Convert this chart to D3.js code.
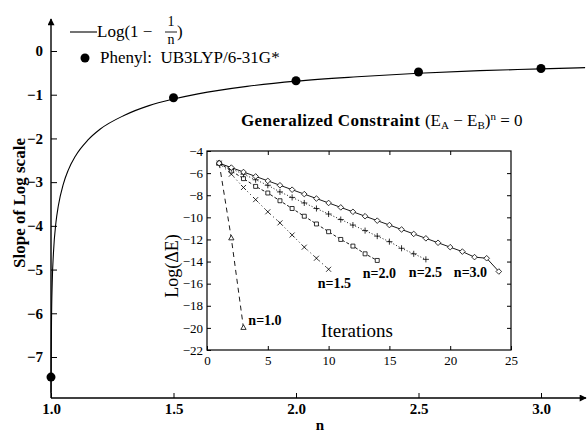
<html>
	<head>
		<meta content="text/html;charset=utf-8" http-equiv="Content-Type">
		<script src="https://d3js.org/d3.v7.min.js"></script>
		<style>
			body { margin: 0; background: #fff; }
			text { font-family: "Liberation Serif", "DejaVu Serif", serif; fill: #000; }
		</style>
	</head>
	<body>
		<div id="stuff">
			<svg width="588" height="435"></svg>
		</div>
		<script>

	// main chart: slope of log scale vs n
	var curveN = [1.0004, 1.001, 1.002, 1.005, 1.01, 1.02, 1.03, 1.05, 1.07, 1.1, 1.15, 1.2, 1.3, 1.4, 1.5, 1.6, 1.8, 2.0, 2.25, 2.5, 2.75, 3.0, 3.18];
	var curveSlope = [-7.82, -6.91, -6.22, -5.30, -4.62, -3.93, -3.54, -3.05, -2.73, -2.40, -2.04, -1.79, -1.47, -1.25, -1.10, -0.98, -0.81, -0.69, -0.59, -0.51, -0.45, -0.41, -0.38];
	var phenylN = [1.0, 1.5, 2.0, 2.5, 3.0];
	var phenylSlope = [-7.46, -1.07, -0.68, -0.48, -0.40];
	var mainXTicks = [1.0, 1.5, 2.0, 2.5, 3.0];
	var mainYTicks = [0, -1, -2, -3, -4, -5, -6, -7];

	// inset: log(dE) vs iterations
	var iterations = [1,2,3,4,5,6,7,8,9,10,11,12,13,14,15,16,17,18,19,20,21,22,23,24];
	var logDE_n10 = [-5.1, -11.9, -20.0];
	var logDE_n15 = [-5.1, -6.1, -7.3, -8.4, -9.5, -10.5, -11.6, -12.7, -13.7, -14.7];
	var logDE_n20 = [-5.1, -5.8, -6.5, -7.2, -7.8, -8.5, -9.2, -9.9, -10.6, -11.3, -12.0, -12.6, -13.3, -13.9];
	var logDE_n25 = [-5.1, -5.6, -6.1, -6.6, -7.1, -7.7, -8.2, -8.7, -9.2, -9.7, -10.2, -10.7, -11.2, -11.7, -12.2, -12.8, -13.3, -13.8];
	var logDE_n30 = [-5.1, -5.5, -5.9, -6.3, -6.7, -7.1, -7.5, -7.9, -8.3, -8.7, -9.1, -9.5, -9.9, -10.3, -10.7, -11.1, -11.5, -11.9, -12.3, -12.7, -13.1, -13.6, -13.7, -14.9];
	var seriesNames = ["n=1.0", "n=1.5", "n=2.0", "n=2.5", "n=3.0"];
	var seriesLabelX = [3.4, 9.1, 12.8, 16.6, 20.3];
	var seriesLabelY = [-19.7, -16.4, -15.5, -15.4, -15.4];
	var insetXTicks = [0, 5, 10, 15, 20, 25];
	var insetYTicks = [-4, -6, -8, -10, -12, -14, -16, -18, -20, -22];

	var svg = d3.select("#stuff").select("svg");

	drawMainChart();
	drawInset();

	function drawMainChart() {
		var x = d3.scaleLinear().domain([1.0, 3.0]).range([51, 541]);
		var y = d3.scaleLinear().domain([0, -7]).range([51, 357]);
		var bottomY = 398;

		// arrow head marker
		svg.append("defs").append("marker")
			.attr("id", "arrow")
			.attr("viewBox", "0 0 10 10")
			.attr("refX", 9)
			.attr("refY", 5)
			.attr("markerWidth", 7)
			.attr("markerHeight", 5)
			.attr("orient", "auto")
			.append("path")
			.attr("d", "M0,0 L10,5 L0,10 z")
			.attr("fill", "#000");

		// axis lines
		svg.append("line")
			.attr("x1", 51).attr("y1", bottomY)
			.attr("x2", 51).attr("y2", 19)
			.attr("stroke", "#000").attr("stroke-width", 1.4)
			.attr("marker-end", "url(#arrow)");
		svg.append("line")
			.attr("x1", 51).attr("y1", bottomY)
			.attr("x2", 586).attr("y2", bottomY)
			.attr("stroke", "#000").attr("stroke-width", 1.4)
			.attr("marker-end", "url(#arrow)");

		var yAxis = svg.append("g")
			.attr("transform", "translate(51,0)")
			.call(d3.axisLeft(y).tickValues(mainYTicks).tickSize(-6).tickPadding(8).tickFormat(d3.format("d")));
		yAxis.select(".domain").remove();
		yAxis.selectAll("text").style("font-size", "15px").style("font-weight", "bold");

		var xAxis = svg.append("g")
			.attr("transform", "translate(0," + bottomY + ")")
			.call(d3.axisBottom(x).tickValues(mainXTicks).tickSize(-5).tickPadding(5).tickFormat(d3.format(".1f")));
		xAxis.select(".domain").remove();
		xAxis.selectAll("text").style("font-size", "15px").style("font-weight", "bold");

		// axis titles
		svg.append("text")
			.attr("transform", "translate(25,203) rotate(-90)")
			.style("text-anchor", "middle")
			.style("font-size", "17px")
			.style("font-weight", "bold")
			.text("Slope of Log scale");
		svg.append("text")
			.attr("x", 320).attr("y", 430)
			.style("text-anchor", "middle")
			.style("font-size", "15px")
			.style("font-weight", "bold")
			.text("n");

		// Log(1 - 1/n) curve
		var curveData = curveN.map(function(n, i){ return [n, curveSlope[i]]; });
		var line = d3.line()
			.x(function(d){ return x(d[0]); })
			.y(function(d){ return y(d[1]); })
			.curve(d3.curveMonotoneX);
		svg.append("path")
			.datum(curveData)
			.attr("d", line)
			.attr("fill", "none")
			.attr("stroke", "#000")
			.attr("stroke-width", 1.1);

		// phenyl points
		phenylN.forEach(function(n, i){
			svg.append("circle")
				.attr("cx", x(n))
				.attr("cy", y(phenylSlope[i]))
				.attr("r", 4.5)
				.attr("fill", "#000");
		});

		// legend
		svg.append("line")
			.attr("x1", 70).attr("y1", 32)
			.attr("x2", 97).attr("y2", 32)
			.attr("stroke", "#000").attr("stroke-width", 1.1);
		svg.append("text")
			.attr("x", 97).attr("y", 37)
			.style("font-size", "17px")
			.text("Log(1 \u2212");
		svg.append("text")
			.attr("x", 171).attr("y", 26)
			.style("text-anchor", "middle")
			.style("font-size", "14px")
			.text("1");
		svg.append("line")
			.attr("x1", 165).attr("y1", 32)
			.attr("x2", 177).attr("y2", 32)
			.attr("stroke", "#000").attr("stroke-width", 0.9);
		svg.append("text")
			.attr("x", 171).attr("y", 44)
			.style("text-anchor", "middle")
			.style("font-size", "14px")
			.text("n");
		svg.append("text")
			.attr("x", 177).attr("y", 37)
			.style("font-size", "17px")
			.text(")");
		svg.append("circle")
			.attr("cx", 85).attr("cy", 58)
			.attr("r", 4.5)
			.attr("fill", "#000");
		svg.append("text")
			.attr("x", 100).attr("y", 63)
			.style("font-size", "17px")
			.attr("xml:space", "preserve")
			.text("Phenyl:  UB3LYP/6-31G*");
	}

	function drawInset() {
		var x = d3.scaleLinear().domain([0, 25]).range([207, 511]);
		var y = d3.scaleLinear().domain([-4, -22]).range([151, 350]);

		// frame
		svg.append("rect")
			.attr("x", 207).attr("y", 151)
			.attr("width", 304).attr("height", 199)
			.attr("fill", "none")
			.attr("stroke", "#000")
			.attr("stroke-width", 1.2);

		var left = svg.append("g").attr("transform", "translate(207,0)")
			.call(d3.axisLeft(y).tickValues(insetYTicks).tickSize(-4).tickPadding(4).tickFormat(d3.format("d")));
		var right = svg.append("g").attr("transform", "translate(511,0)")
			.call(d3.axisRight(y).tickValues(insetYTicks.slice(1, -1)).tickSize(-4).tickFormat(""));
		var bottom = svg.append("g").attr("transform", "translate(0,350)")
			.call(d3.axisBottom(x).tickValues(insetXTicks).tickSize(-4).tickPadding(6).tickFormat(d3.format("d")));
		var top = svg.append("g").attr("transform", "translate(0,151)")
			.call(d3.axisTop(x).tickValues(insetXTicks.slice(1, -1)).tickSize(-4).tickFormat(""));
		[left, right, bottom, top].forEach(function(g){
			g.select(".domain").remove();
			g.selectAll("text").style("font-size", "13px");
		});

		// title and axis labels
		var title = svg.append("text")
			.attr("x", 241).attr("y", 126)
			.style("font-size", "17px");
		title.append("tspan").style("font-weight", "bold").style("letter-spacing", "0.4px").text("Generalized Constraint ");
		title.append("tspan").text(" (E");
		title.append("tspan").attr("dy", 3).style("font-size", "11px").text("A");
		title.append("tspan").attr("dy", -3).text(" \u2212 E");
		title.append("tspan").attr("dy", 3).style("font-size", "11px").text("B");
		title.append("tspan").attr("dy", -3).text(")");
		title.append("tspan").attr("dy", -6).style("font-size", "11px").text("n");
		title.append("tspan").attr("dy", 6).text(" = 0");

		svg.append("text")
			.attr("transform", "translate(178,266) rotate(-90)")
			.style("text-anchor", "middle")
			.style("font-size", "18px")
			.text("Log(\u0394E)");
		svg.append("text")
			.attr("x", 357).attr("y", 337)
			.style("text-anchor", "middle")
			.style("font-size", "19px")
			.text("Iterations");

		// series
		var series = [logDE_n10, logDE_n15, logDE_n20, logDE_n25, logDE_n30];
		var dashes = ["5,4", "1,3", "3,2", "1,2", null];
		var symbols = [d3.symbolTriangle2, d3.symbolTimes, d3.symbolSquare2, d3.symbolPlus, d3.symbolDiamond2];
		var sizes = [20, 18, 20, 14, 20];
		var line = d3.line()
			.x(function(d){ return x(d[0]); })
			.y(function(d){ return y(d[1]); });
		series.forEach(function(vals, s){
			var pts = vals.map(function(v, i){ return [iterations[i], v]; });
			svg.append("path")
				.datum(pts)
				.attr("d", line)
				.attr("fill", "none")
				.attr("stroke", "#000")
				.attr("stroke-width", 0.9)
				.attr("stroke-dasharray", dashes[s]);
			svg.append("g").selectAll("path")
				.data(pts)
				.enter().append("path")
				.attr("transform", function(d){ return "translate(" + x(d[0]) + "," + y(d[1]) + ")"; })
				.attr("d", d3.symbol().type(symbols[s]).size(sizes[s]))
				.attr("fill", "#fff")
				.attr("stroke", "#000")
				.attr("stroke-width", 0.8);
			svg.append("text")
				.attr("x", x(seriesLabelX[s]))
				.attr("y", y(seriesLabelY[s]))
				.style("font-size", "14px")
				.style("font-weight", "bold")
				.text(seriesNames[s]);
		});
	}

		</script>
	</body>
</html>
